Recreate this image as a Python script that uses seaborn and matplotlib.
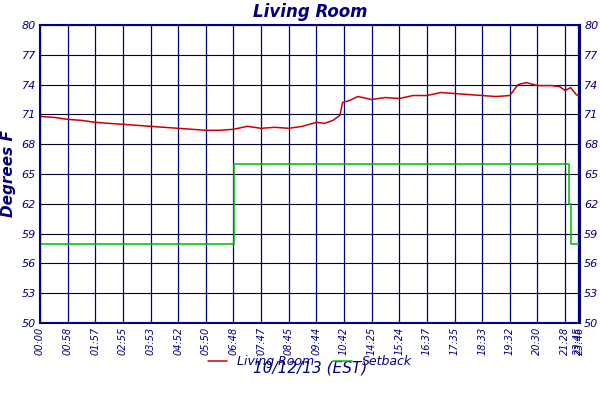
import matplotlib
matplotlib.use("Agg")
import matplotlib.pyplot as plt
import pandas as pd
import seaborn as sns

sns.set_theme(style="white")

# x is in tick-slot units (ticks are evenly spaced by slot, not by time)
tick_pos = list(range(20)) + [19.47, 19.54]
tick_labels = ["00:00", "00:58", "01:57", "02:55", "03:53", "04:52", "05:50", "06:48",
               "07:47", "08:45", "09:44", "10:42", "14:25", "15:24", "16:37", "17:35",
               "18:33", "19:32", "20:30", "21:28", "23:45", "23:46"]
y_ticks = [50, 53, 56, 59, 62, 65, 68, 71, 74, 77, 80]

room_x = [0.0, 0.5, 1.0, 1.5, 2.0, 2.5, 3.0, 3.5, 4.0, 4.5, 5.0, 5.5, 6.0, 6.5, 7.0,
          7.5, 8.0, 8.5, 9.0, 9.5, 10.0, 10.3, 10.6, 10.85, 10.95, 11.2, 11.5, 12.0,
          12.5, 13.0, 13.5, 14.0, 14.5, 15.0, 15.5, 16.0, 16.5, 17.0, 17.3, 17.6,
          18.0, 18.5, 18.8, 19.0, 19.2, 19.4, 19.54]
room_y = [70.8, 70.7, 70.5, 70.4, 70.2, 70.1, 70.0, 69.9, 69.8, 69.7, 69.6, 69.5, 69.4,
          69.4, 69.5, 69.8, 69.6, 69.7, 69.6, 69.8, 70.2, 70.1, 70.4, 70.9, 72.2, 72.4,
          72.8, 72.5, 72.7, 72.6, 72.9, 72.9, 73.2, 73.1, 73.0, 72.9, 72.8, 72.9, 74.0,
          74.2, 73.9, 73.9, 73.8, 73.4, 73.7, 73.0, 72.8]
setback_x = [0.0, 7.03, 7.03, 19.15, 19.15, 19.2, 19.2, 19.54]
setback_y = [58, 58, 66, 66, 62, 62, 58, 58]

navy = "#000080"
font = {"family": "DejaVu Sans", "style": "italic", "color": navy}

fig = plt.figure(figsize=(6, 4), dpi=100)
ax = fig.add_axes([40 / 600, 1 - 323 / 400, 540 / 600, 298 / 400])

room = pd.DataFrame({"x": room_x, "y": room_y})
setback = pd.DataFrame({"x": setback_x, "y": setback_y})
sns.lineplot(data=room, x="x", y="y", ax=ax, color="#cc0000", lw=1.1, label="Living Room")
sns.lineplot(data=setback, x="x", y="y", ax=ax, color="#00bb00", lw=1.1, label="Setback",
             estimator=None, sort=False)

ax.set_xlim(0, 19.54)
ax.set_ylim(50, 80)
for p in tick_pos:
    ax.axvline(p, color=navy, lw=0.9, zorder=0)
for v in y_ticks:
    ax.axhline(v, color="#000030", lw=0.8, zorder=0)
ax.set_xticks(tick_pos)
ax.set_xticklabels(tick_labels, rotation=90, fontsize=7, style="italic", color=navy)
ax.set_yticks(y_ticks)
ax.set_yticklabels(y_ticks, fontsize=8, style="italic", color=navy)
ax.tick_params(length=0, labelright=True, pad=3)
for s in ax.spines.values():
    s.set_color(navy)
    s.set_linewidth(1.5)

ax.set_xlabel("10/12/13 (EST)", fontsize=11, labelpad=4, **font)
ax.set_ylabel("Degrees F", fontsize=11, fontweight="bold", **font)
ax.set_title("Living Room", fontsize=12, fontweight="bold", pad=6, **font)
leg = ax.legend(loc="center", bbox_to_anchor=(0.5, -0.13), ncol=2, frameon=False,
                fontsize=9, handlelength=1.5, columnspacing=1.5)
for t in leg.get_texts():
    t.set_color(navy)
    t.set_style("italic")

fig.savefig("out.png", dpi=100)
